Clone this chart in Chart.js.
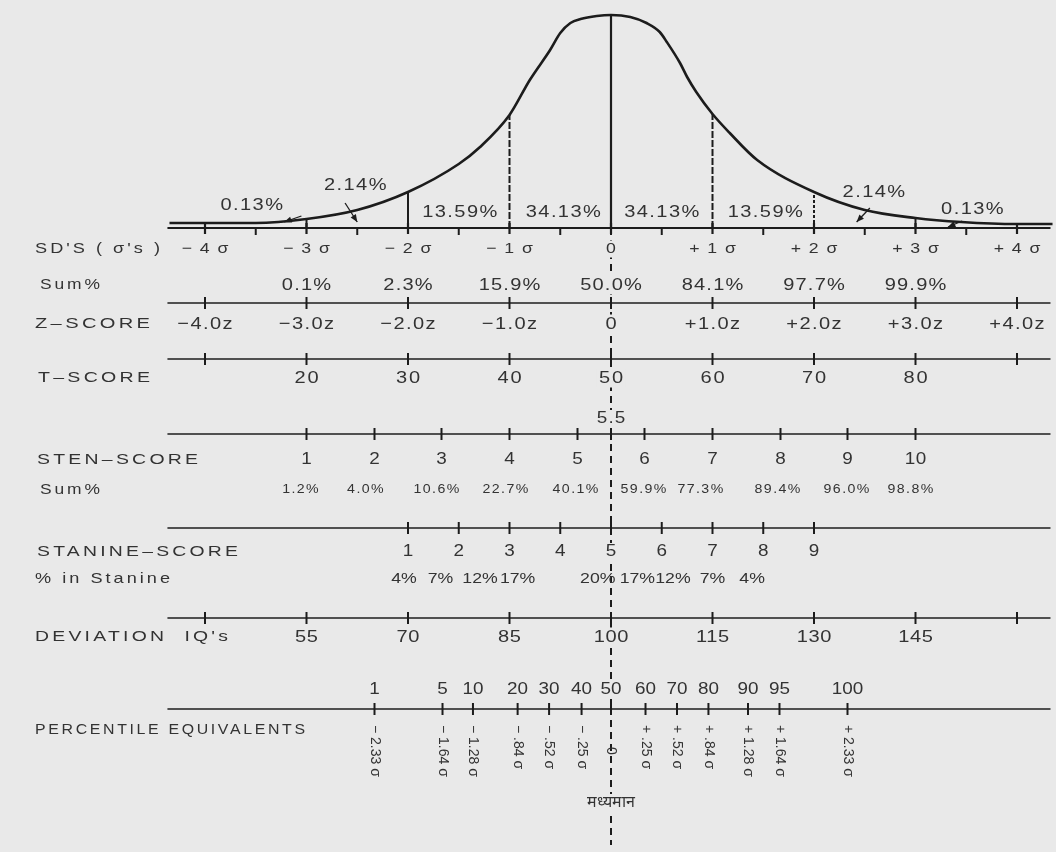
<!DOCTYPE html>
<html>
<head>
<meta charset="utf-8">
<script src="https://cdn.jsdelivr.net/npm/chart.js@4"></script>
<style>
  html, body { margin: 0; padding: 0; background: #e9e9e9; }
  #wrap { width: 1056px; height: 852px; position: relative; }
</style>
</head>
<body>
<div id="wrap"><canvas id="normalChart"></canvas></div>
<script>
// normal curve (sigma -> height above the base line)
const curveSigma  = [-4.35, -4, -3.5, -3, -2.5, -2, -1.5, -1.29, -1, -0.8, -0.6, -0.5, -0.4, -0.3, -0.14, 0, 0.19, 0.35, 0.48, 0.55, 0.68, 0.75, 0.84, 1, 1.17, 1.44, 2, 2.5, 3, 3.45, 4, 4.35];
const curveHeight = [5, 5, 5, 9, 18, 36, 64, 81, 113, 148, 178, 195, 205, 209, 212, 213, 211, 205, 196, 186, 165, 151, 136, 114, 95, 68, 36, 18, 10, 6, 4, 4];

const sdSigma   = [-4, -3, -2, -1, 0, 1, 2, 3, 4];
const sdLabels  = ['\u2212 4 \u03c3', '\u2212 3 \u03c3', '\u2212 2 \u03c3', '\u2212 1 \u03c3', '0', '+ 1 \u03c3', '+ 2 \u03c3', '+ 3 \u03c3', '+ 4 \u03c3'];
const dividerSigma = [-3, -2, -1, 0, 1, 2, 3];
const areaLabels = ['0.13%', '2.14%', '13.59%', '34.13%', '34.13%', '13.59%', '2.14%', '0.13%'];
const cumPct    = ['', '0.1%', '2.3%', '15.9%', '50.0%', '84.1%', '97.7%', '99.9%', ''];
const zLabels   = ['\u22124.0z', '\u22123.0z', '\u22122.0z', '\u22121.0z', '0', '+1.0z', '+2.0z', '+3.0z', '+4.0z'];
const tScores   = ['', '20', '30', '40', '50', '60', '70', '80', ''];

const stenScores = [1, 2, 3, 4, 5, 6, 7, 8, 9, 10];
const stenSigma  = [-3, -2.33, -1.67, -1, -0.33, 0.33, 1, 1.67, 2.33, 3];
const stenCumPct = ['1.2%', '4.0%', '10.6%', '22.7%', '40.1%', '59.9%', '77.3%', '89.4%', '96.0%', '98.8%'];

const stanineScores = [1, 2, 3, 4, 5, 6, 7, 8, 9];
const stanineSigma  = [-2, -1.5, -1, -0.5, 0, 0.5, 1, 1.5, 2];
const staninePct    = ['4%', '7%', '12%', '17%', '20%', '17%', '12%', '7%', '4%'];

const iqScores = ['', '55', '70', '85', '100', '115', '130', '145', ''];

const percentiles     = ['1', '5', '10', '20', '30', '40', '50', '60', '70', '80', '90', '95', '100'];
const percentileSigma = [-2.33, -1.66, -1.36, -0.92, -0.61, -0.29, 0, 0.34, 0.65, 0.96, 1.35, 1.66, 2.33];
const percentileZ     = ['\u2212 2.33 \u03c3', '\u2212 1.64 \u03c3', '\u2212 1.28 \u03c3', '\u2212 .84 \u03c3', '\u2212 .52 \u03c3', '\u2212 .25 \u03c3', '0',
                         '+ .25 \u03c3', '+ .52 \u03c3', '+ .84 \u03c3', '+ 1.28 \u03c3', '+ 1.64 \u03c3', '+ 2.33 \u03c3'];

// layout (page pixels)
const ZERO_PX = 611, PX_PER_SIGMA = 101.5, BASE_Y = 228;
const LINE_X0 = -4.37, LINE_X1 = 4.33;
const STRETCH = 1.18;   // the scanned type is wider than Liberation Sans
const rowY = {
  sdText: 249, sum: 285, zLine: 303, zText: 324, tLine: 359, tText: 378,
  sten55: 419, stenLine: 434, stenText: 460, stenSum: 490,
  stanLine: 528, stanText: 552, stanPct: 579, iqLine: 618, iqText: 637,
  pctText: 690, pctLine: 709, pctTitle: 730, pctZ: 725, mean: 803, centerEnd: 845
};
const areaLabelPos = [[-3.54, 205], [-2.52, 185], [-1.49, 212], [-0.47, 212], [0.5, 212], [1.52, 212], [2.59, 192], [3.56, 209]];
const stenSumPos = [-3.06, -2.42, -1.72, -1.04, -0.35, 0.32, 0.88, 1.64, 2.32, 2.95];
const staninePctPos = [-2.04, -1.68, -1.29, -0.92, -0.13, 0.26, 0.61, 1.0, 1.39];
const arrows = [[-2.62, 203, -2.5, 222], [-3.05, 216, -3.22, 222], [2.55, 208, 2.42, 222], [3.46, 221, 3.32, 227]];
// row titles: text, left x, right x, row
const titles = [
  ['SD\'S ( \u03c3\'s )', 35, 160, 'sdText'], ['Sum%', 40, 100, 'sum'], ['Z\u2013SCORE', 35, 150, 'zText'],
  ['T\u2013SCORE', 38, 150, 'tText'], ['STEN\u2013SCORE', 37, 198, 'stenText'], ['Sum%', 40, 100, 'stenSum'],
  ['STANINE\u2013SCORE', 37, 238, 'stanText'], ['% in Stanine', 35, 170, 'stanPct'],
  ['DEVIATION  IQ\'s', 35, 228, 'iqText'], ['PERCENTILE EQUIVALENTS', 35, 305, 'pctTitle']
];

const BG = '#e9e9e9', INK = '#1c1c1c', TXT = '#333333';
const FONT = '"Liberation Sans", Arial, sans-serif';

const rowsPlugin = {
  id: 'rows',
  beforeDraw(chart) {
    const c = chart.ctx;
    c.save();
    c.fillStyle = BG;
    c.fillRect(0, 0, chart.width, chart.height);
    c.restore();
  },
  afterDatasetsDraw(chart) {
    const c = chart.ctx;
    const xs = chart.scales.x, ys = chart.scales.y;
    const px = s => xs.getPixelForValue(s);
    const hAt = s => ys.getPixelForValue(curveHeight[curveSigma.indexOf(s)]);

    c.save();
    c.strokeStyle = INK;
    c.lineCap = 'butt';

    function line(x0, y0, x1, y1, w, dash) {
      c.beginPath();
      c.lineWidth = w || 1.5;
      c.setLineDash(dash || []);
      c.moveTo(x0, y0);
      c.lineTo(x1, y1);
      c.stroke();
      c.setLineDash([]);
    }
    function measure(str, size, spacing) {
      c.font = size + 'px ' + FONT;
      c.letterSpacing = (spacing || 0) + 'px';
      return c.measureText(str).width - (spacing || 0);
    }
    function text(str, x, y, size, spacing, align, clear, sx) {
      sx = sx || STRETCH;
      const w = measure(str, size, spacing) * sx;
      const left = align === 'left' ? x : x - w / 2;
      if (clear) {
        c.fillStyle = BG;
        c.fillRect(left - 2, y - size / 2 - 1, w + 4, size + 2);
      }
      c.save();
      c.translate(left, y);
      c.scale(sx, 1);
      c.textAlign = 'left';
      c.textBaseline = 'middle';
      c.fillStyle = TXT;
      c.fillText(str, 0, 0);
      c.restore();
    }
    function row(y, sigmas) {
      line(px(LINE_X0), y, px(LINE_X1), y, 1.5);
      sigmas.forEach(s => line(px(s), y - 6, px(s), y + 6, 2));
    }

    // base line of the curve and its ticks
    line(px(LINE_X0), BASE_Y, px(LINE_X1), BASE_Y, 2);
    sdSigma.forEach(s => line(px(s), BASE_Y - 5, px(s), BASE_Y + 6, 2.2));
    sdSigma.slice(0, -1).forEach(s => line(px(s + 0.5), BASE_Y, px(s + 0.5), BASE_Y + 7, 2));

    // dividers under the curve
    dividerSigma.forEach(s => {
      if (s === 0) return;
      const dash = Math.abs(s) === 1 ? [7, 2] : (s === 2 ? [3, 2] : []);
      line(px(s), BASE_Y, px(s), hAt(s), 2, dash);
    });
    // mean line
    line(px(0), hAt(0), px(0), BASE_Y, 2.2);
    line(px(0), BASE_Y, px(0), rowY.centerEnd, 2, [7, 5]);

    // arrows to the tails
    arrows.forEach(a => {
      const x0 = px(a[0]), x1 = px(a[2]);
      line(x0, a[1], x1, a[3], 1.3);
      const ang = Math.atan2(a[3] - a[1], x1 - x0);
      c.beginPath();
      c.fillStyle = INK;
      c.moveTo(x1, a[3]);
      c.lineTo(x1 - 8 * Math.cos(ang - 0.4), a[3] - 8 * Math.sin(ang - 0.4));
      c.lineTo(x1 - 8 * Math.cos(ang + 0.4), a[3] - 8 * Math.sin(ang + 0.4));
      c.closePath();
      c.fill();
    });

    // score rows
    row(rowY.zLine, sdSigma);
    row(rowY.tLine, sdSigma);
    row(rowY.stenLine, stenSigma.concat([0]));
    row(rowY.stanLine, stanineSigma);
    row(rowY.iqLine, sdSigma);
    row(rowY.pctLine, percentileSigma);

    areaLabels.forEach((t, i) => text(t, px(areaLabelPos[i][0]), areaLabelPos[i][1], 17, 1.2));
    sdLabels.forEach((t, i) => text(t, px(sdSigma[i]), rowY.sdText, 15, 1.2, 'center', sdSigma[i] === 0));
    cumPct.forEach((t, i) => t && text(t, px(sdSigma[i]), rowY.sum, 17, 1, 'center', sdSigma[i] === 0));
    zLabels.forEach((t, i) => text(t, px(sdSigma[i]), rowY.zText, 17, 1.2, 'center', sdSigma[i] === 0));
    tScores.forEach((t, i) => t && text(t, px(sdSigma[i]), rowY.tText, 17, 1.5, 'center', sdSigma[i] === 0));
    text('5.5', px(0), rowY.sten55, 16, 1, 'center', true);
    stenScores.forEach((t, i) => text(String(t), px(stenSigma[i]), rowY.stenText, 16, 0.5));
    stenCumPct.forEach((t, i) => text(t, px(stenSumPos[i]), rowY.stenSum, 12, 1.2));
    stanineScores.forEach((t, i) => text(String(t), px(stanineSigma[i]), rowY.stanText, 16, 0, 'center', stanineSigma[i] === 0));
    staninePct.forEach((t, i) => text(t, px(staninePctPos[i]), rowY.stanPct, 15, 0));
    iqScores.forEach((t, i) => t && text(t, px(sdSigma[i]), rowY.iqText, 17, 0.5, 'center', sdSigma[i] === 0));
    percentiles.forEach((t, i) => text(t, px(percentileSigma[i]), rowY.pctText, 16, 0, 'center', percentileSigma[i] === 0));

    // rotated sigma values under the percentiles
    percentileZ.forEach((t, i) => {
      c.save();
      c.translate(px(percentileSigma[i]), t === '0' ? rowY.pctZ + 22 : rowY.pctZ);
      c.rotate(Math.PI / 2);
      text(t, 0, 0, 14, 0, 'left', false, 1);
      c.restore();
    });
    text('\u092e\u0927\u094d\u092f\u092e\u093e\u0928', px(0), rowY.mean, 16, 0, 'center', true, 1);

    // row titles, stretched to the width they take in the picture
    titles.forEach(([t, x0, x1, key]) => {
      const w = measure(t, 15, 2.5);
      text(t, x0, rowY[key], 15, 2.5, 'left', false, (x1 - x0) / w);
    });
    c.restore();
  }
};

const ctx = document.getElementById('normalChart').getContext('2d');
new Chart(ctx, {
  type: 'line',
  data: {
    datasets: [{
      data: curveSigma.map((s, i) => ({ x: s, y: curveHeight[i] })),
      borderColor: INK,
      borderWidth: 2.6,
      pointRadius: 0,
      cubicInterpolationMode: 'monotone',
      fill: false
    }]
  },
  options: {
    animation: false,
    responsive: true,
    maintainAspectRatio: false,
    layout: { padding: 0 },
    plugins: { legend: { display: false }, tooltip: { enabled: false } },
    scales: {
      x: { type: 'linear', display: false, min: -ZERO_PX / PX_PER_SIGMA, max: (1056 - ZERO_PX) / PX_PER_SIGMA },
      y: { display: false, min: BASE_Y - 852, max: BASE_Y }
    }
  },
  plugins: [rowsPlugin]
});
</script>
</body>
</html>
